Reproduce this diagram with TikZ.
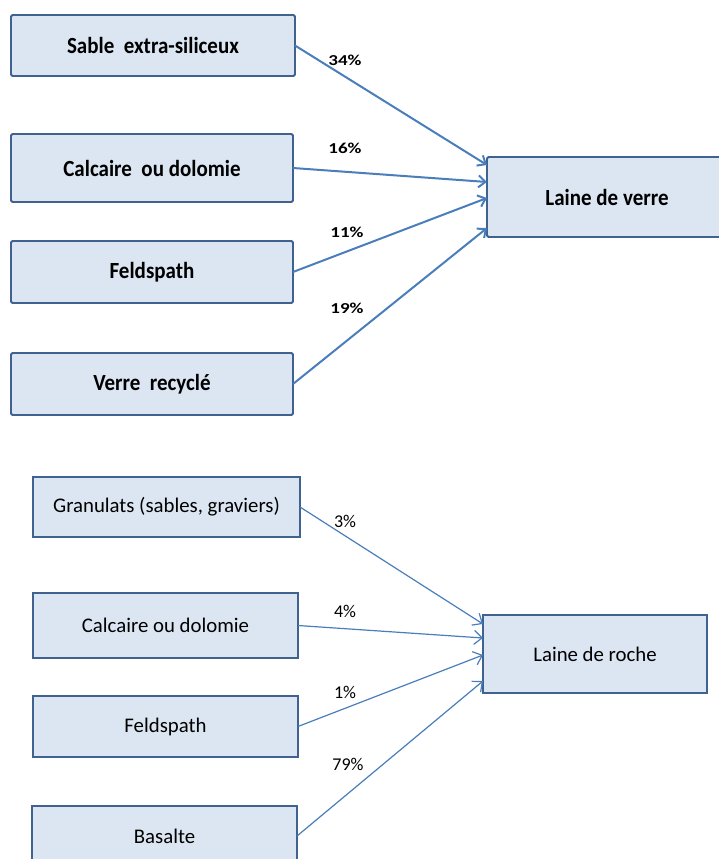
\documentclass[tikz,border=0pt]{standalone}
\usepackage{fontspec}
\setmainfont{Carlito}
\usetikzlibrary{arrows.meta}
\definecolor{boxfill}{HTML}{DCE6F2}
\definecolor{boxline}{HTML}{3F628E}
\definecolor{arrowline}{HTML}{4A7EBB}
% squat figures used for the glass-wool shares
\newcommand{\flatlabel}[1]{\scalebox{1}[0.8]{#1}}
\newcommand{\tallname}[1]{\scalebox{1}[1.1]{#1}}
\begin{document}
\begin{tikzpicture}[x=1pt,y=-1pt,
  glassbox/.style={draw=boxline, fill=boxfill, line width=1.8pt, rounded corners=1.5pt,
    inner sep=0pt, outer sep=0pt, font=\fontsize{21}{24}\selectfont\bfseries},
  rockbox/.style={draw=boxline, fill=boxfill, line width=2.6pt,
    inner sep=0pt, outer sep=0pt, font=\fontsize{20.8}{24}\selectfont},
  glassflow/.style={draw=arrowline, line width=2pt, -{Straight Barb[length=7pt,width=12pt]}},
  rockflow/.style={draw=arrowline, line width=1.2pt, -{Straight Barb[length=8pt,width=14pt]}},
  glasspct/.style={inner sep=0pt, font=\fontsize{19}{21}\selectfont\bfseries},
  rockpct/.style={inner sep=0pt, font=\fontsize{18}{21}\selectfont}]
\useasboundingbox (0,0) rectangle (719,859);

% --- glass wool: raw materials ---
\node[glassbox, minimum width=284pt, minimum height=61pt] (sable) at (153,45.5) {\tallname{Sable~~extra-siliceux}};
\node[glassbox, minimum width=282pt, minimum height=68pt] (calcA) at (152,168) {\tallname{Calcaire~~ou dolomie}};
\node[glassbox, minimum width=282pt, minimum height=62pt] (feldA) at (152,272) {\tallname{Feldspath}};
\node[glassbox, minimum width=282pt, minimum height=62pt] (verre) at (152,384) {\tallname{Verre~~recyclé}};
\node[glassbox, minimum width=240pt, minimum height=80pt] (lvv) at (607,197) {\tallname{Laine de verre}};

\draw[glassflow] (sable.east) -- ([yshift=32pt]lvv.west);
\draw[glassflow] (calcA.east) -- ([yshift=15pt]lvv.west);
\draw[glassflow] (feldA.east) -- ([yshift=-1pt]lvv.west);
\draw[glassflow] (verre.east) -- ([yshift=-31pt]lvv.west);

\node[glasspct] (p34) at (345,60) {\flatlabel{34\%}};
\node[glasspct] (p16) at (345,148) {\flatlabel{16\%}};
\node[glasspct] (p11) at (347,232) {\flatlabel{11\%}};
\node[glasspct] (p19) at (347,308) {\flatlabel{19\%}};

% --- rock wool: raw materials ---
\node[rockbox, minimum width=267pt, minimum height=60pt] (gran) at (166.5,507) {Granulats (sables, graviers)};
\node[rockbox, minimum width=265pt, minimum height=65pt] (calcB) at (165.5,625.5) {Calcaire ou dolomie};
\node[rockbox, minimum width=265pt, minimum height=61pt] (feldB) at (165.5,726.5) {Feldspath};
\node[rockbox, minimum width=265pt, minimum height=60pt] (bas) at (164.5,836) {Basalte};
\node[rockbox, minimum width=224pt, minimum height=78pt] (ldr) at (595,654) {Laine de roche};

\draw[rockflow] (gran.east) -- ([yshift=30pt]ldr.west);
\draw[rockflow] (calcB.east) -- ([yshift=16pt]ldr.west);
\draw[rockflow] (feldB.east) -- ([yshift=-1pt]ldr.west);
\draw[rockflow] (bas.east) -- ([yshift=-27pt]ldr.west);

\node[rockpct] (p3) at (345,521) {3\%};
\node[rockpct] (p4) at (345,611) {4\%};
\node[rockpct] (p1) at (345,692) {1\%};
\node[rockpct] (p79) at (348,764) {79\%};
\end{tikzpicture}
\end{document}
